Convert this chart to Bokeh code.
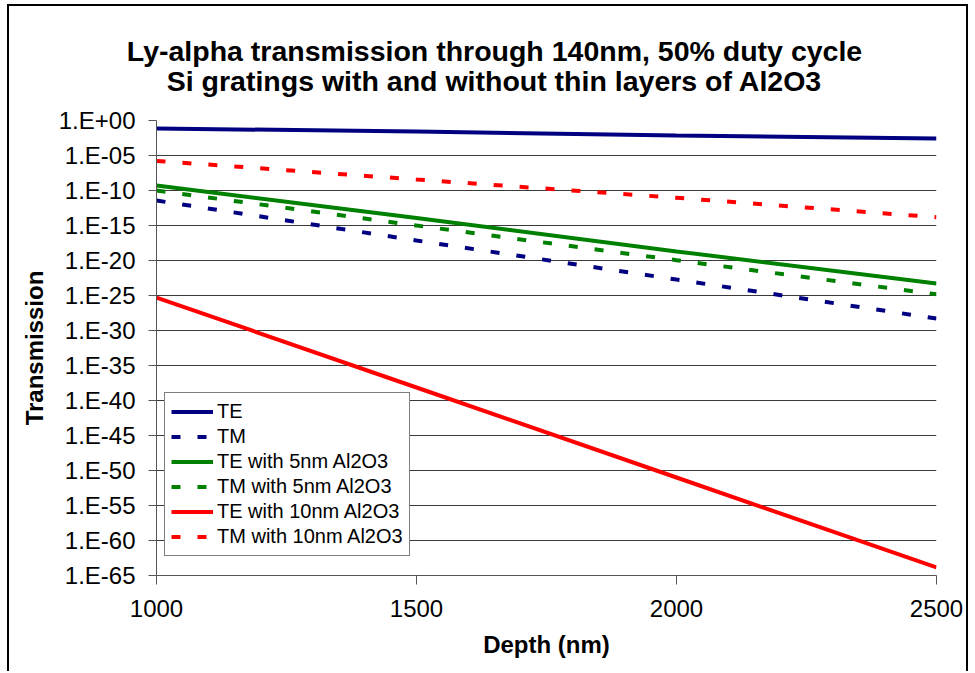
from bokeh.plotting import figure
from bokeh.models import Range1d, FixedTicker, CustomJSTickFormatter, Legend, LegendItem, Label
from bokeh.embed import file_html
from bokeh.resources import INLINE

# ---- data ----
depth = [1000, 1500, 2000, 2500]
te = [7.2e-02, 2.7e-02, 7.2e-03, 2.7e-03]
tm = [3.7e-12, 7.2e-18, 1.9e-23, 5.1e-29]
te_5nm = [5.1e-10, 1.2e-14, 2.0e-19, 5.1e-24]
tm_5nm = [1.0e-10, 1.0e-15, 1.1e-20, 1.5e-25]
te_10nm = [5.1e-26, 7.2e-39, 1.0e-51, 1.4e-64]
tm_10nm = [1.7e-06, 3.7e-09, 9.1e-12, 1.5e-14]

series_names = ["TE", "TM", "TE with 5nm Al2O3", "TM with 5nm Al2O3",
                "TE with 10nm Al2O3", "TM with 10nm Al2O3"]
x_ticks = [1000, 1500, 2000, 2500]
y_tick_exponents = [0, -5, -10, -15, -20, -25, -30, -35, -40, -45, -50, -55, -60, -65]
y_tick_labels = ["1.E+00", "1.E-05", "1.E-10", "1.E-15", "1.E-20", "1.E-25", "1.E-30",
                 "1.E-35", "1.E-40", "1.E-45", "1.E-50", "1.E-55", "1.E-60", "1.E-65"]
title_lines = ["Ly-alpha transmission through 140nm, 50% duty cycle",
               "Si gratings with and without thin layers of Al2O3"]
x_label = "Depth (nm)"
y_label = "Transmission"

FONT = "Liberation Sans"
NAVY = "#000080"
GREEN = "#008000"
RED = "#FF0000"
DASH = "9 17"

p = figure(width=961, height=667,
           x_range=Range1d(1000, 2500), y_range=Range1d(1e-65, 1),
           y_axis_type="log", output_backend="svg", toolbar_location=None,
           min_border_left=147, min_border_right=34, min_border_top=114, min_border_bottom=98)
p.margin = (4, 0, 0, 7)
p.styles = {"border-top": "2px solid black", "border-left": "2px solid black",
            "border-right": "2px solid black"}
p.outline_line_color = None
p.background_fill_color = "white"
p.border_fill_color = "white"
p.title.text = ""

# grid
p.xgrid.visible = False
yt = FixedTicker(ticks=[10.0 ** e for e in y_tick_exponents])
p.yaxis.ticker = yt
p.ygrid.ticker = yt
p.ygrid.grid_line_color = "#3a3a3a"
p.ygrid.grid_line_width = 1

p.xaxis.ticker = FixedTicker(ticks=x_ticks)
p.yaxis.formatter = CustomJSTickFormatter(
    args=dict(exps=y_tick_exponents, labels=y_tick_labels),
    code="const e = Math.round(Math.log10(tick)); const i = exps.indexOf(e); return i >= 0 ? labels[i] : '';")

for ax in (p.xaxis[0], p.yaxis[0]):
    ax.axis_line_color = "#555555"
    ax.axis_line_width = 1
    ax.major_tick_line_color = "#555555"
    ax.minor_tick_line_color = None
    ax.major_tick_in = 0
    ax.major_label_text_font = FONT
    ax.major_label_text_font_size = "24px"
    ax.major_label_text_color = "black"
    ax.axis_label_text_font = FONT
    ax.axis_label_text_font_size = "24px"
    ax.axis_label_text_font_style = "bold"
    ax.axis_label_text_color = "black"

p.xaxis.axis_label = x_label
p.yaxis.axis_label = y_label
p.xaxis.major_tick_out = 9
p.yaxis.major_tick_out = 8
p.xaxis.major_label_standoff = 15
p.yaxis.major_label_standoff = 13
p.xaxis.axis_label_standoff = 11
p.yaxis.axis_label_standoff = 8

# series
series = [te, tm, te_5nm, tm_5nm, te_10nm, tm_10nm]
colors = [NAVY, NAVY, GREEN, GREEN, RED, RED]
dashes = ["solid", DASH, "solid", DASH, "solid", DASH]
renderers = []
for ys, c, d in zip(series, colors, dashes):
    r = p.line(depth, ys, line_color=c, line_width=4, line_dash=d, line_cap="butt")
    renderers.append(r)

legend = Legend(items=[LegendItem(label=n, renderers=[r]) for n, r in zip(series_names, renderers)],
                location=(8, 19), margin=0, padding=6, spacing=0,
                glyph_width=42, glyph_height=25, label_height=25, label_standoff=4,
                label_text_font=FONT, label_text_font_size="20px", label_text_color="black",
                border_line_color="black", border_line_width=1,
                background_fill_color="white", background_fill_alpha=1.0)
p.add_layout(legend)

# two-line title centred over the whole chart; placed in the top panel (unclipped),
# positioned through the plot's own scales (7 px per decade above the frame top)
title_y = [10 ** 10.0, 10 ** 5.71]
for txt, ty in zip(title_lines, title_y):
    p.add_layout(Label(x=1650, y=ty, text=txt,
                       text_align="center", text_baseline="alphabetic",
                       text_font=FONT, text_font_style="bold",
                       text_font_size="28.5px", text_color="black"), "above")

open("out.html", "w").write(file_html(p, INLINE))
